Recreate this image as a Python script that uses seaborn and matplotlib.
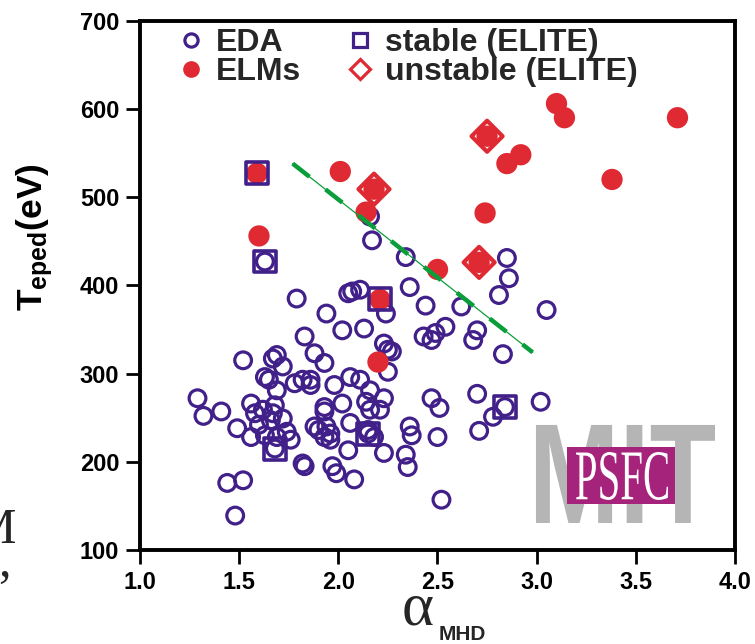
import matplotlib
matplotlib.use("Agg")
import matplotlib.pyplot as plt
import seaborn as sns
from matplotlib.lines import Line2D
from matplotlib.textpath import TextPath
from matplotlib.patches import PathPatch, Rectangle
from matplotlib.font_manager import FontProperties
from matplotlib.transforms import Affine2D

# ---- data -------------------------------------------------------------
# EDA discharges (alpha_MHD, T_eped in eV)
eda_x = [1.29, 1.32, 1.41, 1.49, 1.56, 1.56, 1.52, 1.44, 1.52, 1.48,
         1.67, 1.69, 1.63, 1.65, 1.72, 1.79, 1.83, 1.94, 2.02, 2.13,
         2.07, 2.11, 2.05, 2.24, 2.16, 2.17, 2.34, 2.36, 2.44, 2.62,
         2.85, 2.86, 2.81, 3.05, 2.43, 2.47, 2.49, 2.54, 2.70, 2.68,
         2.83, 2.27, 2.25, 2.23, 2.25, 2.23, 2.47, 2.51, 2.70, 2.78,
         3.02, 2.21, 2.36, 2.37, 2.50, 2.71, 2.23, 2.34, 2.35, 2.52,
         1.82, 1.83, 1.97, 1.99, 2.08, 2.05, 1.88, 1.93, 2.06, 2.11,
         1.78, 1.82, 1.86, 1.98, 2.16, 2.14, 2.16, 1.93, 1.93, 2.02,
         1.69, 1.67, 1.72, 1.88, 1.90, 1.96, 2.06, 2.15, 2.18, 1.69,
         1.76, 1.94, 1.93, 1.96, 1.86, 1.62, 1.66, 1.60, 1.63, 1.58,
         1.74, 1.68, 1.63, 1.68, 2.15, 2.84]
eda_y = [272, 252, 257, 238, 266, 228, 315, 176, 179, 139,
         317, 321, 296, 293, 308, 385, 342, 368, 349, 351,
         393, 395, 391, 368, 478, 451, 432, 398, 377, 376,
         431, 408, 389, 372, 342, 338, 346, 353, 349, 338,
         322, 325, 327, 334, 302, 272, 272, 261, 277, 251,
         268, 259, 240, 230, 228, 235, 210, 208, 194, 157,
         198, 195, 195, 187, 180, 213, 323, 312, 296, 293,
         289, 293, 287, 287, 281, 268, 259, 262, 257, 266,
         281, 255, 249, 240, 236, 232, 244, 236, 228, 228,
         225, 240, 228, 225, 293, 259, 247, 242, 230, 255,
         234, 264, 427, 215, 232, 262]

# ELMy discharges
elm_x = [3.10, 3.14, 3.71, 2.85, 2.92, 3.38, 2.74, 2.50, 2.01,
         2.14, 1.60, 2.20, 1.59, 2.21, 2.18, 2.71, 2.75]
elm_y = [606, 590, 590, 538, 548, 520, 482, 418, 529,
         483, 456, 313, 527, 384, 509, 426, 569]

# ELITE stability results
stable_x = [1.59, 2.21, 1.63, 1.68, 2.15, 2.84]
stable_y = [527, 384, 427, 215, 232, 262]
unstable_x = [2.18, 2.71, 2.75]
unstable_y = [509, 426, 569]

# boundary between the two regimes
fit_x = [1.77, 2.98]
fit_y = [538, 324]

x_ticks = [1.0, 1.5, 2.0, 2.5, 3.0, 3.5, 4.0]
y_ticks = [100, 200, 300, 400, 500, 600, 700]

legend_labels = ["EDA", "ELMs", "stable (ELITE)", "unstable (ELITE)"]

# ---- style --------------------------------------------------------------
PURPLE = "#41208a"
RED = "#e02a33"
GREEN = "#0a9e3a"

sns.set_theme(style="white")
plt.rcParams["font.family"] = ["Liberation Sans", "DejaVu Sans"]
plt.rcParams["font.weight"] = "bold"
plt.rcParams["mathtext.fontset"] = "custom"
plt.rcParams["mathtext.rm"] = "Liberation Serif"
plt.rcParams["mathtext.it"] = "Liberation Serif"
plt.rcParams["mathtext.bf"] = "Liberation Sans:bold"

fig = plt.figure(figsize=(7.55, 6.44), dpi=100)
ax = fig.add_axes([0.1854, 0.146, 0.7881, 0.8219])

# ---- marks ---------------------------------------------------------------
sns.scatterplot(x=eda_x, y=eda_y, marker="o", s=145, facecolor="none",
                edgecolor=PURPLE, linewidth=2.3, ax=ax, zorder=3)
sns.scatterplot(x=elm_x, y=elm_y, marker="o", s=235, color=RED,
                edgecolor="none", linewidth=0, ax=ax, zorder=4)
sns.scatterplot(x=stable_x, y=stable_y, marker="s", s=250, facecolor="none",
                edgecolor=PURPLE, linewidth=2.6, ax=ax, zorder=5)
sns.scatterplot(x=unstable_x, y=unstable_y, marker="D", s=250, facecolor="none",
                edgecolor=RED, linewidth=3.0, ax=ax, zorder=5)

sns.lineplot(x=fit_x, y=fit_y, color=GREEN, linewidth=0.9, ax=ax, zorder=6)
sns.lineplot(x=fit_x, y=fit_y, color=GREEN, linewidth=3.2,
             linestyle=(0, (4.8, 4.6)), ax=ax, zorder=6)

# ---- axes ---------------------------------------------------------------
ax.set_xlim(1.0, 4.0)
ax.set_ylim(100, 700)
ax.set_xticks(x_ticks)
ax.set_xticklabels([f"{v:.1f}" for v in x_ticks])
ax.set_yticks(y_ticks)
ax.set_yticklabels([str(v) for v in y_ticks])
ax.tick_params(direction="out", length=10, width=2, labelsize=17, pad=5,
               colors="black", bottom=True, left=True)
for sp in ax.spines.values():
    sp.set_visible(True)
    sp.set_color("black")
    sp.set_linewidth(2.8)

ax.set_xlabel("")
ax.set_ylabel(r"$\mathbf{T}_{\mathbf{eped}}\mathbf{(eV)}$", fontsize=25.5,
              color="black")
ax.yaxis.set_label_coords(-0.142, 0.59)

fig.text(0.532, 0.030, "\u03b1", family="Liberation Serif",
         fontweight="normal", fontsize=44, ha="left", va="baseline")
fig.text(0.581, 0.006, "MHD", fontsize=15, fontweight="bold",
         ha="left", va="baseline")

# ---- legend -------------------------------------------------------------
handles = [
    Line2D([], [], ls="none", marker="o", mfc="none", mec=PURPLE, mew=2.3, ms=9.5),
    Line2D([], [], ls="none", marker="o", mfc=RED, mec=RED, mew=0, ms=12),
    Line2D([], [], ls="none", marker="s", mfc="none", mec=PURPLE, mew=2.3, ms=10.5),
    Line2D([], [], ls="none", marker="D", mfc="none", mec=RED, mew=2.3, ms=10),
]
ax.legend(handles, legend_labels, ncol=2, loc="upper left",
          bbox_to_anchor=(0.061, 0.986), frameon=False,
          prop=FontProperties(family="Liberation Sans", weight="bold", size=23),
          handlelength=0.95, handletextpad=0.3, columnspacing=1.35,
          labelspacing=-0.02, borderpad=0, borderaxespad=0)


# ---- institute logo -------------------------------------------------------
def fitted_text(text, box, color, family, weight, z):
    tp = TextPath((0, 0), text, size=1,
                  prop=FontProperties(family=family, weight=weight))
    ext = tp.get_extents()
    x0, y0, x1, y1 = box
    tr = (Affine2D().translate(-ext.x0, -ext.y0)
          .scale((x1 - x0) / ext.width, (y1 - y0) / ext.height)
          .translate(x0, y0))
    ax.add_patch(PathPatch(tr.transform_path(tp), facecolor=color,
                           edgecolor="none", transform=ax.transAxes,
                           zorder=z, clip_on=False))


fitted_text("MIT", (0.6655, 0.051, 0.9664, 0.2362), "#b5b5b5",
            "Liberation Sans", "bold", 1)
ax.add_patch(Rectangle((0.7171, 0.0869), 0.1821, 0.1083, facecolor="#a6237c",
                       edgecolor="none", transform=ax.transAxes, zorder=1.5))
fitted_text("PSFC", (0.7328, 0.0945, 0.8874, 0.1851), "white",
            "Liberation Serif", "normal", 1.6)

# fragments of neighbouring text at the left edge
fig.text(16 / 755, 1 - 543 / 644, "M", family="Liberation Serif",
         fontweight="normal", fontsize=36, ha="right", va="baseline")
fig.text(11 / 755, 1 - 576 / 644, ",", family="Liberation Serif",
         fontweight="normal", fontsize=36, ha="right", va="baseline")

fig.savefig("out.png", dpi=100)
